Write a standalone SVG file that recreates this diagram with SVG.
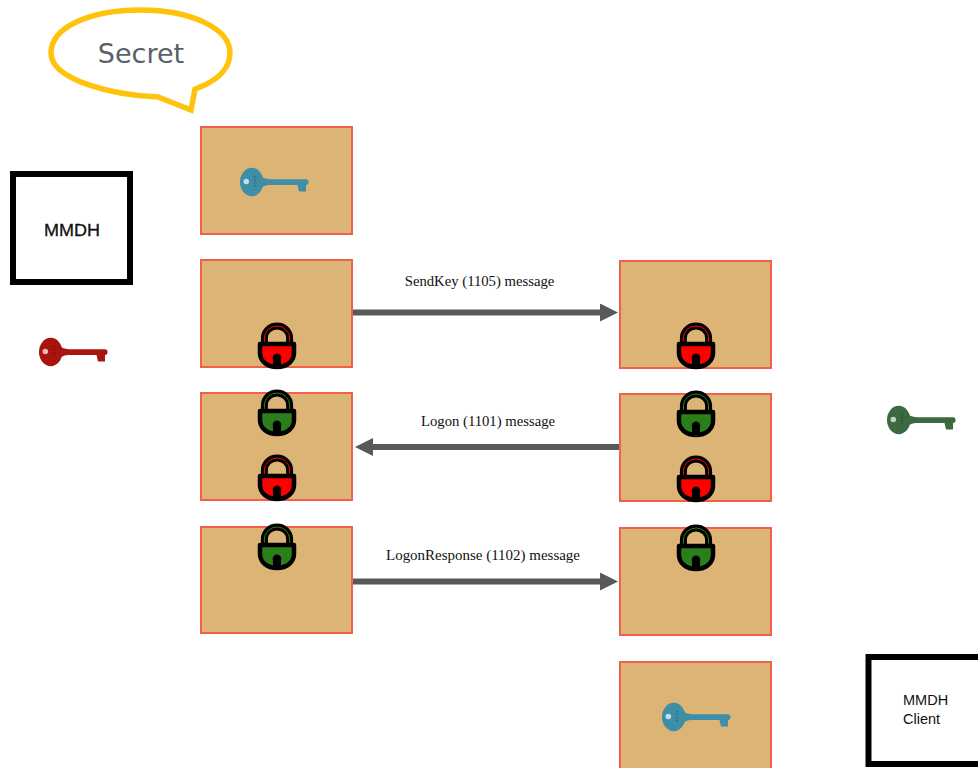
<svg xmlns="http://www.w3.org/2000/svg" xmlns:xlink="http://www.w3.org/1999/xlink" width="978" height="768" viewBox="0 0 978 768">
<style>
.box{fill:#dcb475;stroke:#f0604c;stroke-width:2}
.actor{fill:#fff;stroke:#000;stroke-width:6}
.sans{font-family:"Liberation Sans",Arial,sans-serif;font-size:14.5px;fill:#111}
.msg{font-family:"Liberation Serif","Times New Roman",serif;font-size:14.7px;fill:#111;text-anchor:middle}
.conn{fill:none;stroke:#58595b;stroke-width:6}
</style>
<defs>
<marker id="ah" markerUnits="userSpaceOnUse" markerWidth="18" markerHeight="18" refX="4" refY="9" orient="auto"><path d="M0 0L18 9L0 18Z" fill="#58595b"/></marker>
<g id="lock">
<path d="M-12.600 -4V-9A12.600 12 0 0 1 12.600 -9V-4" fill="none" stroke="#000" stroke-width="7"/>
<path d="M-12.600 -5V-9A12.600 12 0 0 1 12.600 -9V-5" fill="none" stroke="currentColor" stroke-width="1"/>
<path d="M-17 -3H17V6C17 14 10 20 0 20C-10 20 -17 14 -17 6Z" fill="currentColor" stroke="#000" stroke-width="4.500" stroke-linejoin="round"/>
<path d="M-3.500 20V13C-6 5 6 5 3.500 13V20Z" fill="#000" stroke="#000" stroke-width="1"/>
</g>
<g id="key">
<ellipse cx="11.700" cy="0" rx="11.700" ry="14.200" fill="currentColor"/>
<path d="M19 -8Q23 -2.800 30 -2.800H66C69.500 -2.800 69.500 3 66 3V9.500H59L57.500 3H30Q23 3 19 8Z" fill="currentColor"/>
<circle cx="6.300" cy="-.5" r="2.800" fill="#fff" fill-opacity=".7"/>
<path d="M15 -6V6" stroke="#000" stroke-opacity=".18" stroke-width="2.500" stroke-dasharray="1.500 1.500"/>
</g>
</defs>
<g id="connectors">
<path class="conn" d="M353 312.500H604" marker-end="url(#ah)"/>
<path class="conn" d="M620 447H369" marker-end="url(#ah)"/>
<path class="conn" d="M353 581.500H604" marker-end="url(#ah)"/>
</g>
<g id="secret">
<path d="M158 97C112 95 51 80 51 53C51 27 90 10 141 10C190 10 230 28 230 53C230 70 215 82 195 89L191 110L158 97Z" fill="#fff" stroke="#ffc30b" stroke-width="5.500"/>
<text x="141" y="63" font-family="'DejaVu Sans',sans-serif" font-size="27" fill="#595f69" text-anchor="middle">Secret</text>
</g>
<g id="mmdh"><rect class="actor" x="13" y="174" width="117" height="108"/><text class="sans" x="44" y="235.500" style="font-size:16.500px" textLength="56" lengthAdjust="spacingAndGlyphs" stroke="#111" stroke-width=".3">MMDH</text></g>
<g id="mmdh-client"><rect class="actor" x="868.500" y="657" width="116" height="107"/><text class="sans" x="903" y="705">MMDH</text><text class="sans" x="903" y="724">Client</text></g>
<g id="red-key" color="#a8150e"><use xlink:href="#key" x="39" y="352"/></g>
<g id="green-key" color="#3c6a40"><use xlink:href="#key" x="887" y="420"/></g>
<g id="server-secret"><rect class="box" x="201" y="127" width="151" height="107"/><use xlink:href="#key" x="240" y="182" color="#3f8ea8"/></g>
<g id="server-sendkey"><rect class="box" x="201" y="260" width="151" height="107"/><use xlink:href="#lock" x="277" y="347" color="#f00"/></g>
<g id="server-logon"><rect class="box" x="201" y="393" width="151" height="107"/><use xlink:href="#lock" x="277" y="414" color="#2b7f1b"/><use xlink:href="#lock" x="277" y="479" color="#f00"/></g>
<g id="server-response"><rect class="box" x="201" y="527" width="151" height="106"/><use xlink:href="#lock" x="277" y="548" color="#2b7f1b"/></g>
<g id="client-sendkey"><rect class="box" x="620" y="261" width="151" height="107"/><use xlink:href="#lock" x="696" y="347" color="#f00"/></g>
<g id="client-logon"><rect class="box" x="620" y="394" width="151" height="107"/><use xlink:href="#lock" x="696" y="415" color="#2b7f1b"/><use xlink:href="#lock" x="696" y="480" color="#f00"/></g>
<g id="client-response"><rect class="box" x="620" y="528" width="151" height="107"/><use xlink:href="#lock" x="696" y="549" color="#2b7f1b"/></g>
<g id="client-secret"><rect class="box" x="620" y="662" width="151" height="107"/><use xlink:href="#key" x="662" y="717" color="#3f8ea8"/></g>
<g id="labels">
<text class="msg" x="479.500" y="286">SendKey (1105) message</text>
<text class="msg" x="488" y="426">Logon (1101) message</text>
<text class="msg" x="483" y="560" textLength="194" lengthAdjust="spacingAndGlyphs">LogonResponse (1102) message</text>
</g>
</svg>
